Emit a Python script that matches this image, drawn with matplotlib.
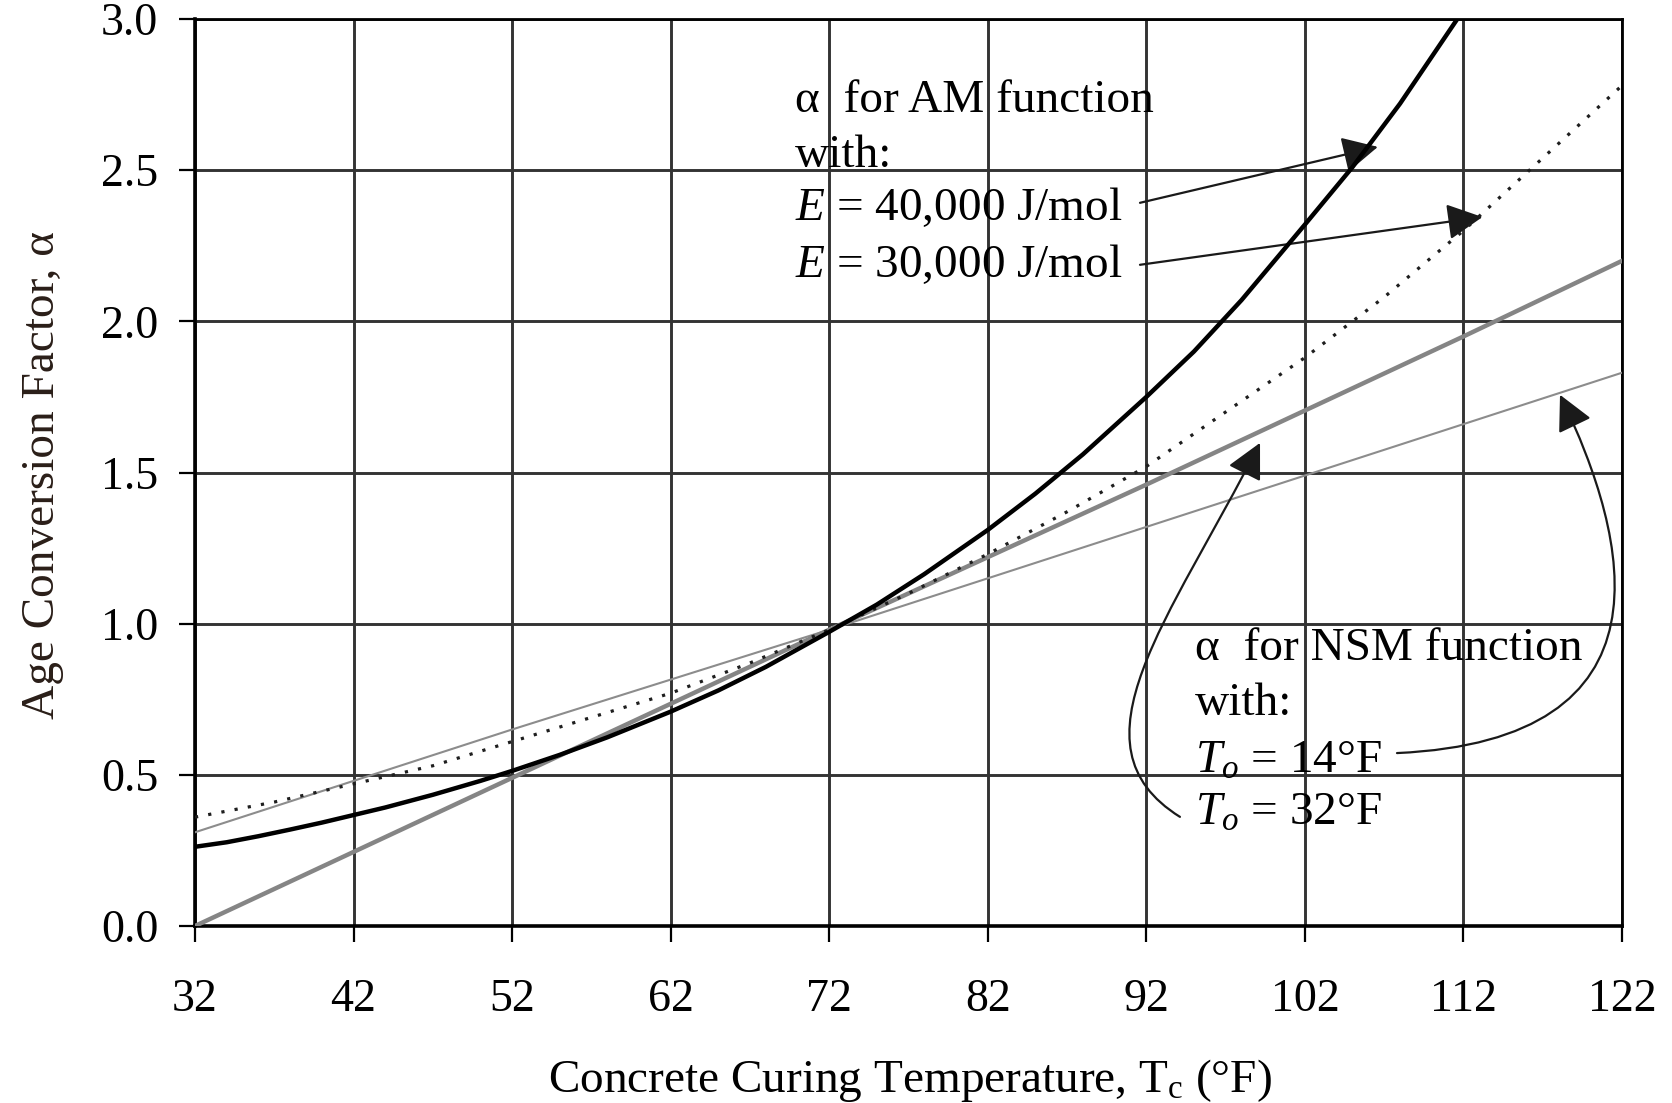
import matplotlib
matplotlib.use("Agg")
import matplotlib.pyplot as plt
from matplotlib.path import Path
from matplotlib.patches import FancyArrowPatch

plt.rcParams['font.family'] = ['Liberation Serif', 'DejaVu Serif']
plt.rcParams['mathtext.fontset'] = 'custom'
plt.rcParams['mathtext.rm'] = 'Liberation Serif'
plt.rcParams['mathtext.it'] = 'Liberation Serif:italic'
plt.rcParams['mathtext.bf'] = 'Liberation Serif:bold'

# Age conversion factor vs. curing temperature (deg F)
am_40k_temp = [32, 34, 36, 38, 40, 42, 44, 47, 50, 52, 55, 58, 62, 65, 68, 72, 75, 78,
               82, 85, 88, 92, 95, 98, 102, 105, 108, 112]
am_40k_alpha = [0.262, 0.277, 0.297, 0.319, 0.342, 0.367, 0.392, 0.434, 0.480, 0.513,
                0.566, 0.624, 0.709, 0.779, 0.857, 0.973, 1.063, 1.164, 1.31, 1.43,
                1.56, 1.75, 1.90, 2.07, 2.32, 2.51, 2.72, 3.03]

am_30k_temp = [32, 37, 42, 47, 52, 57, 62, 67, 72, 77, 82, 87, 92, 97, 102, 107, 112, 117, 122]
am_30k_alpha = [0.36, 0.41, 0.47, 0.53, 0.61, 0.69, 0.77, 0.87, 0.98, 1.10, 1.23, 1.37,
                1.52, 1.70, 1.88, 2.08, 2.30, 2.54, 2.78]

nsm_32_temp = [32, 52, 72, 92, 112, 122]
nsm_32_alpha = [0.00, 0.49, 0.98, 1.46, 1.95, 2.20]

nsm_14_temp = [32, 52, 72, 92, 112, 122]
nsm_14_alpha = [0.31, 0.65, 0.98, 1.32, 1.66, 1.83]

x_ticks = [32, 42, 52, 62, 72, 82, 92, 102, 112, 122]
y_ticks = [0.0, 0.5, 1.0, 1.5, 2.0, 2.5, 3.0]

W, H = 1672, 1103
fig = plt.figure(figsize=(W / 100, H / 100), dpi=100)
ax = fig.add_axes([195 / W, 1 - 926 / H, (1622 - 195) / W, (926 - 19) / H])


def px(x, y):
    return x / W, 1 - y / H


ax.plot(nsm_14_temp, nsm_14_alpha, color='#8c8c8c', lw=1.5, zorder=3)
ax.plot(nsm_32_temp, nsm_32_alpha, color='#858585', lw=3.2, zorder=3)
ax.plot(am_30k_temp, am_30k_alpha, color='#1e1e1e', lw=2.3,
        linestyle=(0, (1, 3.2)), zorder=4)
ax.plot(am_40k_temp, am_40k_alpha, color='black', lw=3.2, zorder=5,
        solid_joinstyle='round')

ax.set_xlim(32, 122)
ax.set_ylim(0, 3.0)
ax.set_xticks(x_ticks)
ax.set_yticks(y_ticks)
ax.set_xticklabels([str(t) for t in x_ticks])
ax.set_yticklabels([f"{t:.1f}" for t in y_ticks])
ax.grid(True, color='#333333', lw=2.1)
ax.set_axisbelow(True)
for s in ax.spines.values():
    s.set_color('black')
    s.set_linewidth(2.0)
ax.spines['left'].set_linewidth(2.6)
ax.spines['bottom'].set_linewidth(2.6)
ax.tick_params(axis='x', direction='out', length=11.5, width=1.6, color='black',
               pad=26, labelsize=33)
ax.tick_params(axis='y', direction='out', length=11.5, width=1.6, color='black',
               pad=15, labelsize=33)

fig.text(*px(43, 475), 'Age Conversion Factor, α', rotation=90, fontsize=34,
         ha='center', va='center', color='#2a1e18')
fig.text(*px(910, 1080), r'Concrete Curing Temperature, T$_{\mathrm{c}}$ (°F)',
         fontsize=34, ha='center', va='center')

# annotation blocks
fs = 34
fig.text(*px(795, 112), 'α  for AM function', fontsize=fs, va='baseline')
fig.text(*px(795, 167), 'with:', fontsize=fs, va='baseline')
fig.text(*px(795, 220), r'$E$ = 40,000 J/mol', fontsize=fs, va='baseline')
fig.text(*px(795, 277), r'$E$ = 30,000 J/mol', fontsize=fs, va='baseline')

fig.text(*px(1195, 660), 'α  for NSM function', fontsize=fs, va='baseline')
fig.text(*px(1195, 715), 'with:', fontsize=fs, va='baseline')
fig.text(*px(1195, 773), r'$T_o$ = 14°F', fontsize=fs, va='baseline')
fig.text(*px(1195, 825), r'$T_o$ = 32°F', fontsize=fs, va='baseline')

arrow_kw = dict(arrowstyle='-|>,head_length=0.55,head_width=0.28', mutation_scale=40,
                color='#1a1a1a', lw=1.6, zorder=6)

# straight arrows to the AM curves
ax.annotate('', xy=(106.6, 2.577), xytext=(91.6, 2.392),
            arrowprops=dict(**arrow_kw, shrinkA=0, shrinkB=0))
ax.annotate('', xy=(113.2, 2.345), xytext=(91.6, 2.187),
            arrowprops=dict(**arrow_kw, shrinkA=0, shrinkB=0))

# curved arrows to the NSM lines
codes = [Path.MOVETO, Path.CURVE4, Path.CURVE4, Path.CURVE4]
p32 = Path([(94.12, 0.361), (86.87, 0.599), (93.49, 1.012), (99.17, 1.598)], codes)
p14 = Path([(107.81, 0.572), (125.66, 0.615), (122.50, 1.277), (118.09, 1.757)], codes)
for p in (p32, p14):
    ax.add_patch(FancyArrowPatch(path=p, transform=ax.transData, **arrow_kw))

fig.savefig('out.png', dpi=100)
